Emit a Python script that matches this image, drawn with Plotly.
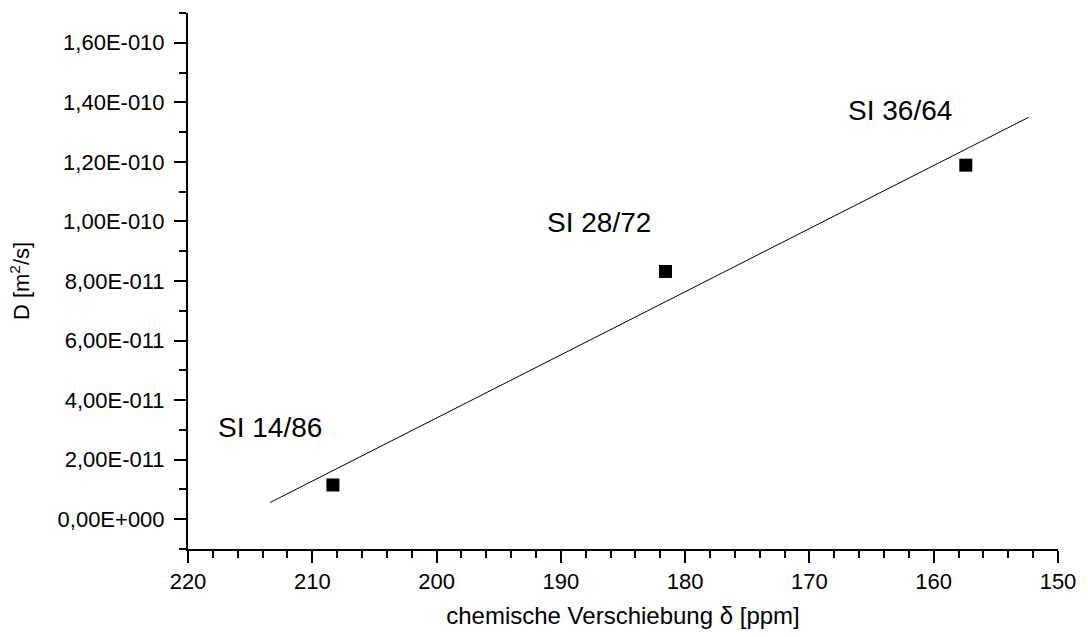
import plotly.graph_objects as go

# Data
shift_ppm = [208.34, 181.58, 157.42]
diff_coef = [1.15e-11, 8.32e-11, 11.89e-11]
sample_labels = ["SI 14/86", "SI 28/72", "SI 36/64"]
label_x = [213.4, 186.9, 162.7]
label_y = [3.09e-11, 9.96e-11, 13.74e-11]

fit_x = [213.4, 152.35]
fit_y = [0.56e-11, 13.50e-11]

y_tickvals = [0, 2e-11, 4e-11, 6e-11, 8e-11, 10e-11, 12e-11, 14e-11, 16e-11]
y_ticktext = ["0,00E+000", "2,00E-011", "4,00E-011", "6,00E-011", "8,00E-011",
              "1,00E-010", "1,20E-010", "1,40E-010", "1,60E-010"]
x_tickvals = [220, 210, 200, 190, 180, 170, 160, 150]

FONT = "Arial, 'Liberation Sans', sans-serif"

fig = go.Figure()
fig.add_trace(go.Scatter(x=fit_x, y=fit_y, mode="lines",
                         line=dict(color="black", width=1), showlegend=False))
fig.add_trace(go.Scatter(x=shift_ppm, y=diff_coef, mode="markers",
                         marker=dict(symbol="square", size=13, color="black"),
                         showlegend=False))

for t, x, y in zip(sample_labels, label_x, label_y):
    fig.add_annotation(x=x, y=y, text=t, showarrow=False,
                       font=dict(family=FONT, size=28, color="black"),
                       xanchor="center", yanchor="middle")

fig.update_layout(
    width=1088, height=637,
    margin=dict(l=188, r=25, t=13, b=88),
    paper_bgcolor="white", plot_bgcolor="white",
    font=dict(family=FONT, color="black"),
)

fig.update_xaxes(
    range=[220, 150], showgrid=False, zeroline=False,
    showline=True, linecolor="black", linewidth=2,
    tickmode="array", tickvals=x_tickvals,
    ticks="outside", ticklen=12, tickwidth=2, tickcolor="black",
    tickfont=dict(family=FONT, size=22, color="black"),
    minor=dict(tick0=150, dtick=2, ticks="outside", ticklen=7, tickwidth=2, tickcolor="black", showgrid=False),
    title=dict(text="chemische Verschiebung δ [ppm]", font=dict(family=FONT, size=24, color="black"), standoff=14),
)
fig.update_yaxes(
    range=[-1e-11, 1.7e-10], showgrid=False, zeroline=False,
    showline=True, linecolor="black", linewidth=2,
    tickmode="array", tickvals=y_tickvals, ticktext=y_ticktext,
    ticks="outside", ticklen=12, tickwidth=2, tickcolor="black",
    ticklabelstandoff=5,
    tickfont=dict(family=FONT, size=22, color="black"),
    minor=dict(tick0=0, dtick=1e-11, ticks="outside", ticklen=7, tickwidth=2, tickcolor="black", showgrid=False),
    title=dict(text="D [m<sup>2</sup>/s]", font=dict(family=FONT, size=22, color="black"), standoff=22),
)

fig.write_html("out.html")
